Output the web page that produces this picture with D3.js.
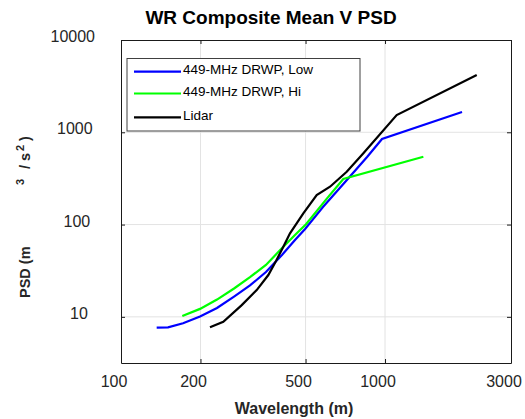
<!DOCTYPE html>
<html>
<head>
<meta charset="utf-8">
<script src="https://cdn.jsdelivr.net/npm/d3@7"></script>
<style>
  html, body { margin: 0; padding: 0; background: #fff; }
  svg { display: block; font-family: "Liberation Sans", Arial, Helvetica, sans-serif; }
</style>
</head>
<body>
<svg id="chart" width="525" height="419"></svg>
<script>
// ---- data ----
const seriesNames = ["449-MHz DRWP, Low", "449-MHz DRWP, Hi", "Lidar"];
const seriesColors = ["#0000ff", "#00ff00", "#000000"];

const lowWavelength = [136.5, 150.7, 171.8, 199.2, 231, 268, 308, 354, 407, 456, 498, 582, 706, 855, 974, 1957];
const lowPSD        = [7.63, 7.70, 8.51, 10.09, 12.47, 16.6, 21.9, 30.6, 46.8, 68.0, 89.5, 155, 289, 540, 846, 1659];

const hiWavelength = [170.7, 199.2, 231, 268, 308, 354, 411, 456, 502, 603, 695, 1397];
const hiPSD        = [10.2, 12.2, 15.4, 20.3, 27.0, 36.5, 57.1, 77.1, 101, 192, 312, 544];

const lidarWavelength = [217.3, 244, 286.6, 326.6, 361.4, 386.5, 412, 436.6, 490.4, 551, 619, 716, 828, 1107, 2225];
const lidarPSD        = [7.70, 8.86, 13.4, 19.5, 28.4, 40.3, 57.6, 80.4, 132, 209, 257, 374, 592, 1538, 4175];

const xTicks = [100, 200, 500, 1000, 3000];
const xTickLabels = ["100", "200", "500", "1000", "3000"];
const yTicks = [10, 100, 1000, 10000];
const yTickLabels = ["10", "100", "1000", "10000"];

const titleText = "WR Composite Mean V PSD";
const xLabelText = "Wavelength (m)";

// ---- layout ----
const svg = d3.select("#chart");
const pLeft = 121, pRight = 511, pTop = 40, pBottom = 363;

const x = d3.scaleLog().domain([100, 3000]).range([pLeft, pRight]);
const y = d3.scaleLog().domain([Math.pow(10, 0.5), 10000]).range([pBottom, pTop]);

// grid
const grid = svg.append("g");
grid.selectAll("line.gx").data(xTicks.filter(d => d > 100 && d < 3000)).enter()
  .append("line").attr("x1", d => x(d)).attr("x2", d => x(d))
  .attr("y1", pTop).attr("y2", pBottom)
  .attr("stroke", "#e3e3e3").attr("stroke-width", 1);
grid.selectAll("line.gy").data(yTicks.filter(d => d < 10000)).enter()
  .append("line").attr("y1", d => y(d)).attr("y2", d => y(d))
  .attr("x1", pLeft).attr("x2", pRight)
  .attr("stroke", "#e3e3e3").attr("stroke-width", 1);

// axes (inward ticks, labels placed separately)
const axB = d3.axisBottom(x).tickValues(xTicks).tickSize(-4).tickSizeOuter(0).tickFormat("");
const axT = d3.axisTop(x).tickValues(xTicks).tickSize(-4).tickSizeOuter(0).tickFormat("");
const axL = d3.axisLeft(y).tickValues(yTicks).tickSize(-4).tickSizeOuter(0).tickFormat("");
const axR = d3.axisRight(y).tickValues(yTicks).tickSize(-4).tickSizeOuter(0).tickFormat("");
function styleAxis(g) {
  g.select(".domain").attr("stroke", "#1a1a1a");
  g.selectAll(".tick line").attr("stroke", "#1a1a1a");
}
svg.append("g").attr("transform", `translate(0,${pBottom})`).call(axB).call(styleAxis);
svg.append("g").attr("transform", `translate(0,${pTop})`).call(axT).call(styleAxis);
svg.append("g").attr("transform", `translate(${pLeft},0)`).call(axL).call(styleAxis);
svg.append("g").attr("transform", `translate(${pRight},0)`).call(axR).call(styleAxis);

// tick labels
svg.append("g").selectAll("text").data(xTicks).enter().append("text")
  .attr("x", d => x(d) - 7).attr("y", 387)
  .attr("text-anchor", "middle").attr("font-size", 16).attr("fill", "#262626")
  .text((d, i) => xTickLabels[i]);
svg.append("g").selectAll("text").data(yTicks).enter().append("text")
  .attr("x", (d, i) => 83 + 2.4 * yTickLabels[i].length).attr("y", d => y(d) + 2)
  .attr("text-anchor", "end").attr("font-size", 16).attr("fill", "#262626")
  .text((d, i) => yTickLabels[i]);

// lines
const line = d3.line().x(d => x(d[0])).y(d => y(d[1]));
const series = [
  d3.zip(lowWavelength, lowPSD),
  d3.zip(hiWavelength, hiPSD),
  d3.zip(lidarWavelength, lidarPSD)
];
const plot = svg.append("g");
series.forEach((s, i) => {
  plot.append("path").datum(s).attr("d", line)
    .attr("fill", "none").attr("stroke", seriesColors[i])
    .attr("stroke-width", 2.2).attr("stroke-linejoin", "miter");
});

// title
svg.append("text").attr("x", 271).attr("y", 24)
  .attr("text-anchor", "middle").attr("font-size", 19).attr("font-weight", "bold")
  .attr("fill", "#000").text(titleText);

// x label
svg.append("text").attr("x", 294).attr("y", 414)
  .attr("text-anchor", "middle").attr("font-size", 16).attr("font-weight", "bold")
  .attr("fill", "#262626").text(xLabelText);

// y label (rotated, with superscripts)
const yl = svg.append("text").attr("transform", "translate(30,298) rotate(-90)")
  .attr("font-size", 14.5).attr("font-weight", "bold").attr("fill", "#262626");
yl.append("tspan").attr("x", 0).attr("y", 0).text("PSD (m");
yl.append("tspan").attr("x", 113).attr("y", -6).attr("font-size", 11).text("3");
yl.append("tspan").attr("x", 129).attr("y", 0).text("/ s");
yl.append("tspan").attr("x", 147).attr("y", -6).attr("font-size", 11).text("2");
yl.append("tspan").attr("x", 157).attr("y", 0).text(")");

// legend
const lg = svg.append("g");
lg.append("rect").attr("x", 127).attr("y", 58.5).attr("width", 233).attr("height", 72.5)
  .attr("fill", "#fff").attr("stroke", "#404040").attr("stroke-width", 1);
const legY = [71.7, 93.5, 117.3];
seriesNames.forEach((name, i) => {
  lg.append("line").attr("x1", 134).attr("x2", 181).attr("y1", legY[i]).attr("y2", legY[i])
    .attr("stroke", seriesColors[i]).attr("stroke-width", 2.2);
  lg.append("text").attr("x", 183).attr("y", legY[i] + 2.5)
    .attr("font-size", 13.5).attr("fill", "#000").text(name);
});
</script>
</body>
</html>
